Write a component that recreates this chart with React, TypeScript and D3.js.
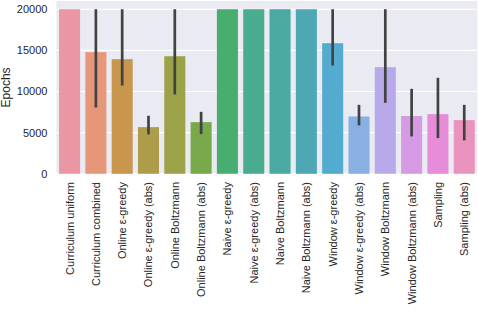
import React from 'react';
import * as d3 from 'd3';

const categories = [
  'Curriculum uniform', 'Curriculum combined', 'Online ε-greedy', 'Online ε-greedy (abs)',
  'Online Boltzmann', 'Online Boltzmann (abs)', 'Naive ε-greedy', 'Naive ε-greedy (abs)',
  'Naive Boltzmann', 'Naive Boltzmann (abs)', 'Window ε-greedy', 'Window ε-greedy (abs)',
  'Window Boltzmann', 'Window Boltzmann (abs)', 'Sampling', 'Sampling (abs)',
];
const means = [20000, 14780, 13930, 5670, 14290, 6280, 20000, 20000, 20000, 20000, 15870, 6970, 12960, 7020, 7250, 6520];
const errLow = [20000, 8050, 10730, 4790, 9640, 4820, 20000, 20000, 20000, 20000, 13160, 5880, 8620, 4540, 4340, 4060];
const errHigh = [20000, 20000, 20000, 7050, 20000, 7530, 20000, 20000, 20000, 20000, 20000, 8380, 20000, 10320, 11660, 8380];
const colors = [
  '#ea96a3', '#e6977a', '#c8964c', '#ad9c49', '#9ba248', '#78aa4b', '#48ae70', '#4aac8e',
  '#4aaaa2', '#4ea8b4', '#53abcf', '#89b0e3', '#b7a9ea', '#d59ae3', '#e78cd8', '#ea93bc',
];
const yTicks = [0, 5000, 10000, 15000, 20000];

const W = 478;
const H = 312;
const plot = { left: 56.4, right: 477.4, top: 1, bottom: 173.8 };
const font = '"Liberation Sans", Arial, sans-serif';

export default function App() {
  const x = d3.scaleBand<string>().domain(categories).range([plot.left, plot.right]).paddingInner(0.2).paddingOuter(0.1);
  const y = d3.scaleLinear().domain([0, 21000]).range([plot.bottom, plot.top]);

  return (
    <svg width={W} height={H} style={{ position: 'absolute', left: 0, top: 0 }}>
      <rect x={plot.left} y={plot.top} width={plot.right - plot.left} height={plot.bottom - plot.top} fill="#eaeaf2" />
      {yTicks.map(t => (
        <g key={t}>
          <line x1={plot.left} x2={plot.right} y1={y(t)} y2={y(t)} stroke="#fff" strokeWidth={1.2} />
          <text x={plot.left - 9} y={y(t)} dy="0.35em" textAnchor="end" fontSize={11} fontFamily={font} fill="#262626">{t}</text>
        </g>
      ))}
      {categories.map((c, i) => (
        <rect key={c} x={x(c)} y={y(means[i])} width={x.bandwidth()} height={y(0) - y(means[i])} fill={colors[i]} />
      ))}
      {categories.map((c, i) => errHigh[i] > errLow[i] && (
        <line key={c} x1={(x(c) || 0) + x.bandwidth() / 2} x2={(x(c) || 0) + x.bandwidth() / 2}
          y1={y(errLow[i])} y2={y(errHigh[i])} stroke="#424242" strokeWidth={2.7} />
      ))}
      {categories.map(c => {
        const cx = (x(c) || 0) + x.bandwidth() / 2;
        return (
          <text key={c} transform={`translate(${cx + 4},182) rotate(-90)`} textAnchor="end"
            fontSize={11} fontFamily={font} fill="#262626">{c}</text>
        );
      })}
      <text transform={`translate(10,${(plot.top + plot.bottom) / 2}) rotate(-90)`} textAnchor="middle"
        fontSize={12} fontFamily={font} fill="#262626">Epochs</text>
    </svg>
  );
}
